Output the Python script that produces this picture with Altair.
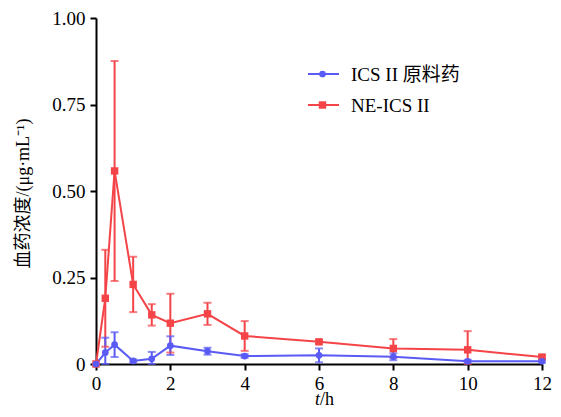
import altair as alt
import pandas as pd

t = [0, 0.25, 0.5, 1, 1.5, 2, 3, 4, 6, 8, 10, 12]
ics_mean = [0, 0.033, 0.056, 0.009, 0.015, 0.053, 0.037, 0.023, 0.025, 0.021, 0.008, 0.008]
ics_sd = [0, 0.043, 0.036, 0.004, 0.02, 0.027, 0.01, 0.005, 0.02, 0.01, 0.004, 0.004]
ne_mean = [0, 0.19, 0.558, 0.23, 0.142, 0.118, 0.145, 0.081, 0.064, 0.045, 0.041, 0.02]
ne_sd = [0, 0.14, 0.318, 0.08, 0.031, 0.085, 0.032, 0.043, 0.005, 0.027, 0.054, 0.005]
series_names = ["ICS II 原料药", "NE-ICS II"]
colors = ["#5a5af5", "#f44448"]
shapes = ["circle", "square"]
marker_sizes = [45, 55]

rows = []
# red series first so that the blue one is drawn on top
for name, m, s in [(series_names[1], ne_mean, ne_sd), (series_names[0], ics_mean, ics_sd)]:
    for ti, mi, si in zip(t, m, s):
        rows.append({"t": ti, "mean": mi, "lo": max(mi - si, 0), "hi": mi + si, "series": name})
df = pd.DataFrame(rows)

FONT = "'Liberation Serif', 'Noto Sans CJK SC', serif"
W, H = 446, 346

xenc = alt.X("t:Q", scale=alt.Scale(domain=[0, 12], nice=False, zero=False),
             axis=alt.Axis(values=[0, 2, 4, 6, 8, 10, 12], title=None, grid=False,
                           labelFont=FONT, labelFontSize=19, labelColor="black",
                           domainColor="black", domainWidth=2, tickColor="black",
                           tickWidth=2, tickSize=6, labelPadding=4, labelFlush=False))
yscale = alt.Scale(domain=[0, 1], nice=False)
yaxis = alt.Axis(values=[0, 0.25, 0.5, 0.75, 1.0], grid=False,
                 labelExpr="datum.value == 0 ? '0' : format(datum.value, '.2f')",
                 title="血药浓度/(μg·mL⁻¹)", titleFont=FONT, titleFontSize=18,
                 titleFontWeight="normal", titleColor="black",
                 titleX=-73, titleY=175, titleAngle=270, titleAlign="center",
                 titleBaseline="middle",
                 labelFont=FONT, labelFontSize=19, labelColor="black",
                 domainColor="black", domainWidth=2, tickColor="black",
                 tickWidth=2, tickSize=6, labelPadding=5)

cscale = alt.Scale(domain=series_names, range=colors)
sscale = alt.Scale(domain=series_names, range=shapes)
zscale = alt.Scale(domain=series_names, range=marker_sizes)

base = alt.Chart(df)

err = base.mark_rule(strokeWidth=2, clip=False).encode(
    x=xenc, y=alt.Y("lo:Q", scale=yscale, axis=yaxis), y2="hi:Q",
    color=alt.Color("series:N", scale=cscale, legend=None))
cap_lo = base.mark_tick(orient="horizontal", size=8, thickness=2).encode(
    x="t:Q", y="lo:Q", color=alt.Color("series:N", scale=cscale, legend=None))
cap_hi = base.mark_tick(orient="horizontal", size=8, thickness=2).encode(
    x="t:Q", y="hi:Q", color=alt.Color("series:N", scale=cscale, legend=None))

line = base.mark_line(strokeWidth=2).encode(
    x="t:Q", y="mean:Q",
    color=alt.Color("series:N", scale=cscale, legend=None),
    detail="series:N")

points = base.mark_point(filled=True, opacity=1).encode(
    x="t:Q", y="mean:Q",
    color=alt.Color("series:N", scale=cscale, legend=None),
    shape=alt.Shape("series:N", scale=sscale, legend=None),
    size=alt.Size("series:N", scale=zscale, legend=None))

# manual legend (line + marker + label), placed in pixels
legend_layers = []
for i, name in enumerate(series_names):
    ly = 56 + 31 * i
    ldf = pd.DataFrame({"s": [name]})
    lc = alt.Chart(ldf)
    legend_layers.append(lc.mark_rule(strokeWidth=2, color=colors[i]).encode(
        x=alt.value(212), x2=alt.value(243), y=alt.value(ly)))
    legend_layers.append(lc.mark_point(filled=True, opacity=1, color=colors[i],
                                       shape=shapes[i], size=marker_sizes[i]).encode(
        x=alt.value(226.5), y=alt.value(ly)))
    legend_layers.append(lc.mark_text(font=FONT, fontSize=19, align="left",
                                      baseline="middle", color="black").encode(
        x=alt.value(255), y=alt.value(ly + 1), text="s:N"))

xt1 = alt.Chart(pd.DataFrame({"s": ["t"]})).mark_text(
    font=FONT, fontSize=18, fontStyle="italic", align="right", baseline="alphabetic",
    color="black").encode(x=alt.value(224), y=alt.value(387), text="s:N")
xt2 = alt.Chart(pd.DataFrame({"s": ["/h"]})).mark_text(
    font=FONT, fontSize=18, align="left", baseline="alphabetic",
    color="black").encode(x=alt.value(224), y=alt.value(387), text="s:N")

chart = alt.layer(err, cap_lo, cap_hi, line, points, *legend_layers, xt1, xt2).properties(
    width=W, height=H,
    autosize=alt.AutoSizeParams(type="none"),
    padding={"left": 88, "top": 10, "right": 11, "bottom": 44},
).configure_view(stroke=None)

chart.save("out.html", embed_options={"renderer": "svg", "actions": False})
